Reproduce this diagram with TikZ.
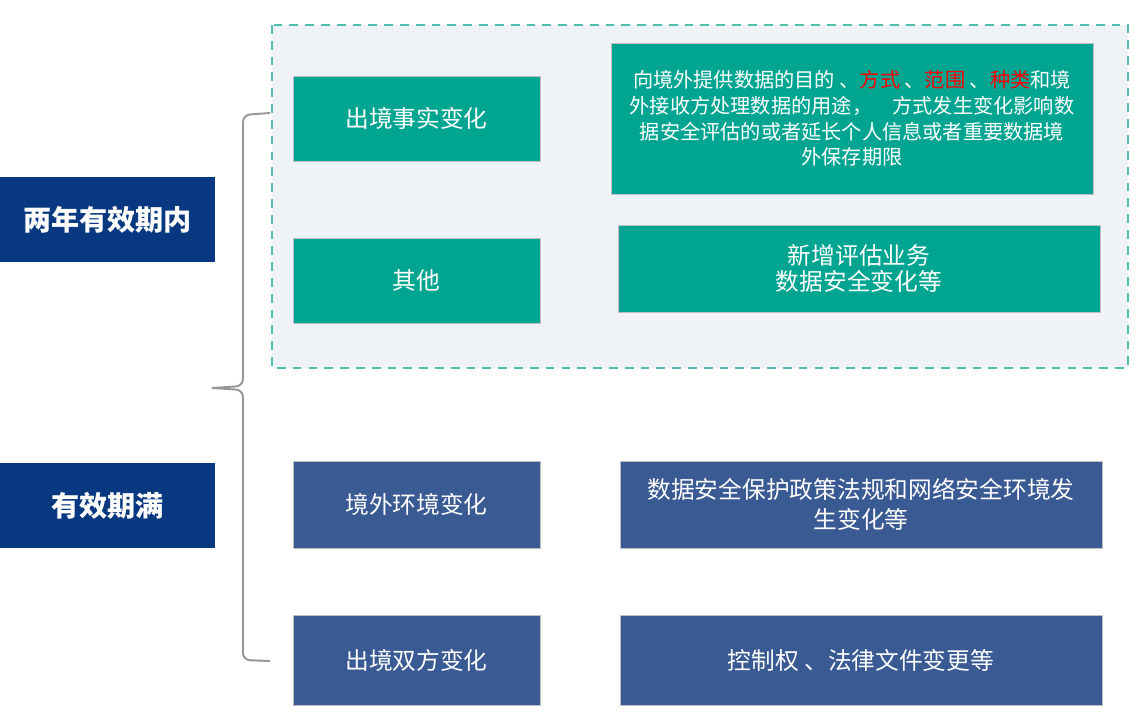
\documentclass[tikz,border=0pt]{standalone}
\usepackage{xcolor}
\usepackage{fontspec}
\setmainfont{Noto Sans CJK SC}
\usepackage{tikz}
\usetikzlibrary{positioning}
\definecolor{tealbox}{RGB}{0,165,145}
\definecolor{navybox}{RGB}{8,57,128}
\definecolor{slatebox}{RGB}{58,90,148}
\definecolor{panelfill}{RGB}{239,242,247}
\definecolor{paneldash}{RGB}{80,190,175}
\definecolor{bracegray}{RGB}{150,150,150}
\tikzstyle{period} = [rectangle,
    minimum width=4.3cm,
    minimum height=1.7cm,
    inner sep=0pt,
    text centered,
    text=white,
    font=\fontsize{16}{19}\selectfont\bfseries,
    fill=navybox]
\tikzstyle{change} = [rectangle,
    minimum width=4.94cm,
    minimum height=1.7cm,
    inner sep=0pt,
    text centered,
    text=white,
    font=\fontsize{13.5}{16}\selectfont,
    draw=white!75!black, very thin]
\tikzstyle{detail} = [change,
    minimum width=9.64cm,
    align=center]
\tikzstyle{panel} = [draw=paneldash, fill=panelfill, line width=1.4pt,
    dash pattern=on 5pt off 4pt]
\tikzstyle{brace} = [draw=bracegray, line width=1.1pt, rounded corners=4pt]

\begin{document}
\begin{tikzpicture}[x=0.02cm, y=-0.02cm]
        \useasboundingbox (0,0) rectangle (1143,720);
        \fill[white] (0,0) rectangle (1143,720);

        % dashed panel for the two-year period
        \draw[panel] (272,25) rectangle (1128,368);

        \node (inner) [period] at (107.5,219.5) {两年有效期内};
        \node (expired) [period] at (107.5,505.5) {有效期满};

        \node (fact) [change, fill=tealbox] at (416.5,118.5) {出境事实变化};
        \node (fact_detail) [detail, fill=tealbox, minimum height=3.02cm,
            font=\fontsize{11.5}{14.7}\selectfont] at (852,118.5)
        {向境外提供数据的目的 、\textcolor{red}{方式} 、\textcolor{red}{范围} 、\textcolor{red}{种类}和境\\
         外接收方处理数据的用途，\quad 方式发生变化影响数\\
         据安全评估的或者延长个人信息或者重要数据境\\
         外保存期限};
        \node (other) [change, fill=tealbox] at (416.5,280.5) {其他};
        \node (other_detail) [detail, fill=tealbox, minimum height=1.74cm,
            font=\fontsize{13.5}{15}\selectfont] at (859,268.5)
        {新增评估业务\\数据安全变化等};

        \node (env) [change, fill=slatebox, minimum height=1.74cm] at (416.5,504.5) {境外环境变化};
        \node (env_detail) [detail, fill=slatebox, minimum height=1.74cm,
            font=\fontsize{13.5}{17}\selectfont] at (861,504.5)
        {数据安全保护政策法规和网络安全环境发\\生变化等};
        \node (party) [change, fill=slatebox, minimum height=1.8cm] at (416.5,660) {出境双方变化};
        \node (party_detail) [detail, fill=slatebox, minimum height=1.8cm] at (861,660)
        {控制权 、法律文件变更等};

        % curly brace grouping the changes
        \coordinate (brace_top) at (270,113);
        \coordinate (brace_tip) at (212,388);
        \coordinate (brace_bottom) at (270,661);
        \draw[brace] (brace_top) -- (243,115) -- (243,386) -- (brace_tip);
        \draw[brace] (brace_tip) -- (243,390) -- (243,660) -- (brace_bottom);
    \end{tikzpicture}
\end{document}
